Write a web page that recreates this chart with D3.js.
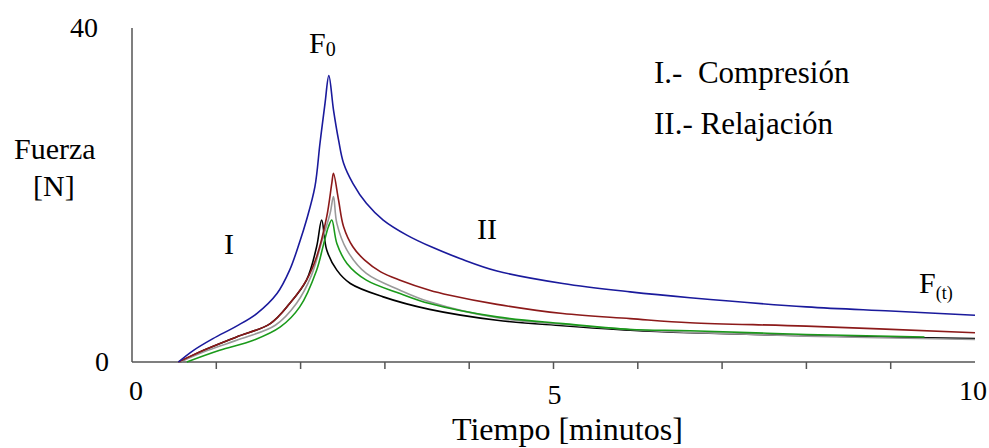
<!DOCTYPE html>
<html>
<head>
<meta charset="utf-8">
<script src="https://cdn.jsdelivr.net/npm/d3@7"></script>
<style>
  body { margin: 0; background: #fff; }
  svg { display: block; }
  text { font-family: "Liberation Serif", "Times New Roman", Tinos, "DejaVu Serif", serif; fill: #000; }
</style>
</head>
<body>
<svg id="chart" width="989" height="448"></svg>
<script>
// ======= data =======
let xTicks = [1, 2, 3, 4, 5, 6, 7, 8, 9];
let xTickLabels = [0, 5, 10];
let yTickLabels = [0, 40];

let blueT = [0.55, 0.73, 0.96, 1.24, 1.48, 1.72, 1.87, 1.99, 2.07, 2.17, 2.23, 2.29, 2.335, 2.39, 2.45, 2.51, 2.62, 2.78, 2.98, 3.26, 3.57, 3.89, 4.33, 5.11, 5.91, 6.62, 8.0, 9.0, 10.0];
let blueF = [0, 1.4, 2.8, 4.3, 5.8, 8.2, 11.0, 14.4, 17.0, 21.0, 26.2, 31.0, 34.3, 30.2, 26.6, 23.8, 21.4, 19.0, 17.0, 15.2, 13.7, 12.4, 10.9, 9.4, 8.4, 7.7, 6.6, 6.1, 5.6];

let redT = [0.55, 0.85, 1.24, 1.64, 1.87, 2.07, 2.19, 2.31, 2.37, 2.39, 2.45, 2.51, 2.62, 2.76, 2.95, 3.18, 3.53, 3.77, 4.33, 5.11, 5.91, 6.62, 8.0, 10.0];
let redF = [0, 1.4, 3.0, 4.6, 7.0, 9.8, 12.6, 17.4, 21.4, 22.6, 19.4, 16.2, 13.8, 12.2, 10.8, 9.8, 8.6, 8.0, 6.9, 5.8, 5.2, 4.7, 4.3, 3.5];

let grayT = [0.57, 0.9, 1.3, 1.7, 1.95, 2.13, 2.25, 2.35, 2.39, 2.43, 2.55, 2.78, 3.18, 3.53, 4.33, 5.11, 5.91, 6.62, 8.0, 10.0];
let grayF = [0, 1.4, 2.8, 4.4, 7.0, 10.4, 14.4, 17.8, 19.8, 16.6, 13.4, 10.6, 8.6, 7.2, 5.3, 4.5, 3.9, 3.55, 3.1, 2.7];

let greenT = [0.65, 1.04, 1.44, 1.76, 1.99, 2.19, 2.27, 2.33, 2.37, 2.43, 2.55, 2.78, 3.18, 3.53, 4.33, 5.11, 5.91, 6.62, 8.0, 9.4];
let greenF = [0, 1.4, 2.6, 4.2, 6.6, 11.0, 14.0, 16.2, 17.0, 14.2, 11.8, 9.8, 8.2, 7.0, 5.4, 4.6, 3.9, 3.75, 3.3, 3.0];

let blackT = [0.57, 0.85, 1.24, 1.64, 1.87, 2.07, 2.19, 2.25, 2.31, 2.43, 2.59, 2.98, 3.53, 4.33, 5.11, 5.91, 6.62, 8.0, 10.0];
let blackF = [0, 1.4, 3.0, 4.6, 7.0, 9.8, 13.8, 17.0, 13.4, 11.0, 9.4, 7.8, 6.3, 5.0, 4.35, 3.8, 3.5, 3.15, 2.8];

let seriesColors = ["#000000", "#9a9a9a", "#1a9a1a", "#8c1a1a", "#1a1a9c"];
let seriesT = [blackT, grayT, greenT, redT, blueT];
let seriesF = [blackF, grayF, greenF, redF, blueF];

// ======= scales =======
let x = d3.scaleLinear().domain([0, 10]).range([132, 975]);
let y = d3.scaleLinear().domain([0, 40]).range([362, 28]);

let svg = d3.select('#chart');

// ======= axes =======
svg.append('line')
  .attr('x1', x(0)).attr('x2', x(0))
  .attr('y1', y(40)).attr('y2', y(0))
  .attr('stroke', '#555').attr('stroke-width', 1.5);

svg.append('line')
  .attr('x1', x(0)).attr('x2', x(10))
  .attr('y1', y(0)).attr('y2', y(0))
  .attr('stroke', '#555').attr('stroke-width', 1.5);

svg.selectAll('.xtick')
  .data(xTicks)
  .enter()
  .append('line')
  .attr('class', 'xtick')
  .attr('x1', d => x(d)).attr('x2', d => x(d))
  .attr('y1', y(0)).attr('y2', y(0) + 7)
  .attr('stroke', '#555').attr('stroke-width', 1.5);

svg.selectAll('.xlabel')
  .data(xTickLabels)
  .enter()
  .append('text')
  .attr('class', 'xlabel')
  .attr('x', d => x(d) + (d === 0 ? 4 : d === 10 ? -2 : 1))
  .attr('y', d => d === 5 ? 404 : 400)
  .attr('text-anchor', 'middle')
  .style('font-size', '28px')
  .text(d => d);

svg.selectAll('.ylabel')
  .data(yTickLabels)
  .enter()
  .append('text')
  .attr('class', 'ylabel')
  .attr('x', d => d === 0 ? 109 : 98)
  .attr('y', d => y(d) + 9)
  .attr('text-anchor', 'end')
  .style('font-size', '28px')
  .text(d => d);

// ======= curves =======
let line = d3.line()
  .curve(d3.curveCatmullRom.alpha(0.5))
  .x(d => x(d[0]))
  .y(d => y(d[1]));

seriesT.forEach(function (ts, i) {
  let pts = ts.map((t, j) => [t, seriesF[i][j]]);
  svg.append('path')
    .datum(pts)
    .attr('fill', 'none')
    .attr('stroke', seriesColors[i])
    .attr('stroke-width', 1.6)
    .attr('d', line);
});

// ======= labels =======
function label(txt, lx, ly, size) {
  return svg.append('text')
    .attr('x', lx).attr('y', ly)
    .style('font-size', (size || 28) + 'px')
    .text(txt);
}

label('Fuerza', 14, 159, 30);
label('[N]', 33, 196, 30);
label('Tiempo [minutos]', 452, 440, 32);
label('I.-  Compresión', 654, 83, 31).style('white-space', 'pre');
label('II.- Relajación', 654, 134, 31);
label('I', 224, 254, 30);
label('II', 477, 239, 30);

let f0 = label('F', 309, 53, 30);
f0.append('tspan').attr('dy', 3).style('font-size', '20px').text('0');

let ft = label('F', 919, 293, 30);
ft.append('tspan').attr('dy', 6).style('font-size', '18px').text('(t)');
</script>
</body>
</html>
